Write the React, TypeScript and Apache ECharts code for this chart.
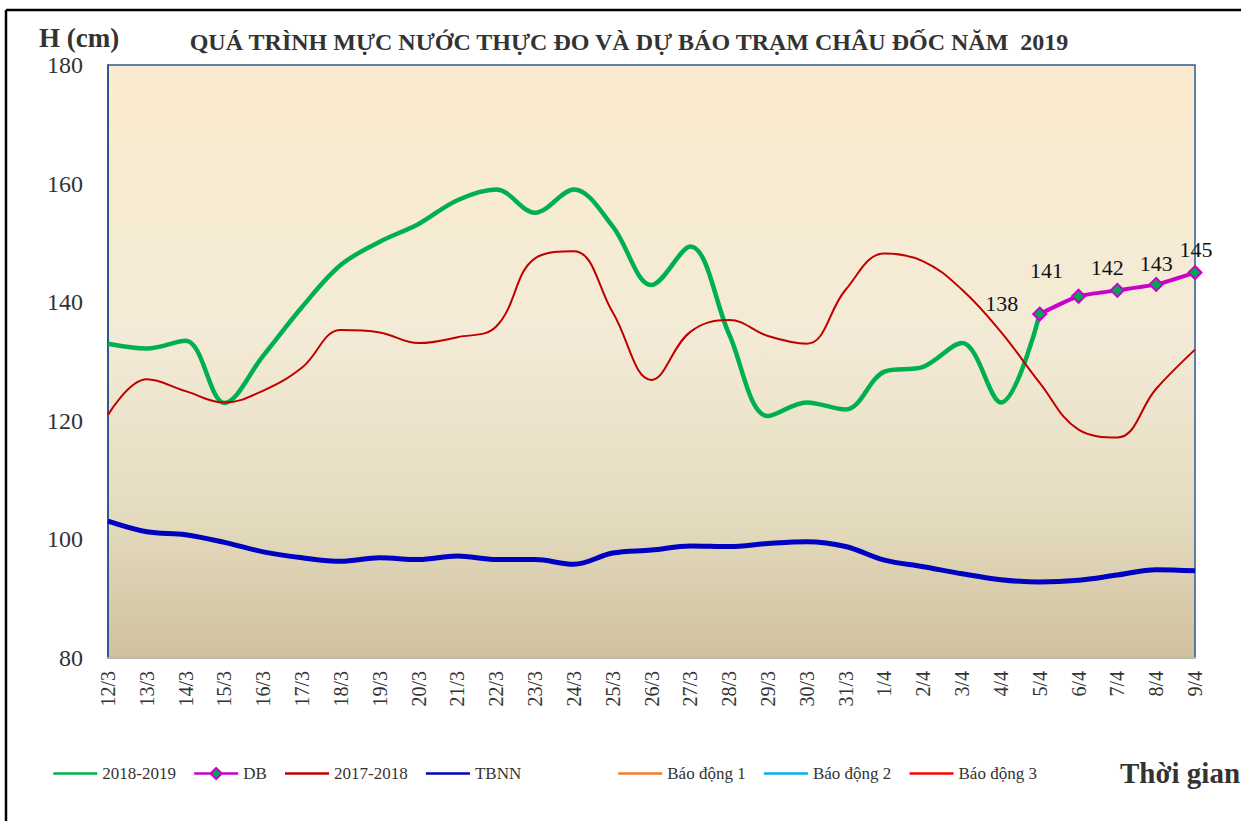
import React, { useEffect, useRef } from "react";
import * as echarts from "echarts";

const categories = [
  "12/3", "13/3", "14/3", "15/3", "16/3", "17/3", "18/3", "19/3", "20/3", "21/3",
  "22/3", "23/3", "24/3", "25/3", "26/3", "27/3", "28/3", "29/3", "30/3", "31/3",
  "1/4", "2/4", "3/4", "4/4", "5/4", "6/4", "7/4", "8/4", "9/4",
];

const s2018_2019 = [
  133, 132.2, 133.5, 123, 131, 139.2, 146.3, 150.2, 153.2, 157.2,
  159, 155.1, 159, 152.8, 142.9, 149.4, 134.6, 120.8, 123.1, 121.9,
  128.3, 129.1, 133.1, 123.1, 138,
];

const sDB = [138, 141, 142, 143, 145];
const dbStartIndex = 24;

const s2017_2018 = [
  121, 127, 125, 123.1, 125.1, 129, 135.3, 134.9, 133.1, 134.1,
  135.9, 147.4, 148.6, 138.3, 126.9, 135, 137, 134.3, 133, 142.1,
  148.2, 146.9, 142.1, 135, 126.4, 118.5, 117.2, 125.4, 132,
];

const sTBNN = [
  103.1, 101.3, 100.8, 99.5, 97.9, 96.9, 96.3, 96.9, 96.6, 97.2,
  96.6, 96.6, 95.8, 97.7, 98.2, 98.9, 98.8, 99.3, 99.6, 98.8,
  96.5, 95.4, 94.2, 93.2, 92.8, 93.1, 94.0, 94.9, 94.7,
];

const sBaoDong1: number[] = [];
const sBaoDong2: number[] = [];
const sBaoDong3: number[] = [];

const yTicks = { min: 80, max: 180, interval: 20 };

const titleText = "QUÁ TRÌNH MỰC NƯỚC THỰC ĐO VÀ DỰ BÁO TRẠM CHÂU ĐỐC NĂM  2019";

// label placement offsets for DB labels (layout only)
const dbLabelOffsets = [
  [-38, -11],
  [-32, -26],
  [-10, -23],
  [0, -21],
  [1, -23],
];

const FONT = "'Liberation Serif', 'Times New Roman', serif";

export default function App() {
  const ref = useRef<HTMLDivElement>(null);

  useEffect(() => {
    document.body.style.margin = "0";
    if (!ref.current) return;
    const chart = echarts.init(ref.current, undefined, { renderer: "svg" });

    const greenData = categories.map((_, i) => (i < s2018_2019.length ? s2018_2019[i] : null));
    const dbData = categories.map((_, i) => {
      const k = i - dbStartIndex;
      if (k < 0 || k >= sDB.length) return null;
      return {
        value: sDB[k],
        label: {
          show: true,
          position: "inside",
          offset: dbLabelOffsets[k],
          formatter: String(sDB[k]),
          fontFamily: FONT,
          fontSize: 22,
          color: "#111",
        },
      };
    });

    const hiddenSymbol = { opacity: 0 };
    const legendText = { fontFamily: FONT, fontSize: 17, color: "#333" };

    const option: any = {
      animation: false,
      backgroundColor: "#ffffff",
      grid: {
        left: 108,
        right: 46,
        top: 65,
        bottom: 163,
        show: true,
        borderColor: "#2E5A94",
        borderWidth: 1.5,
        backgroundColor: new echarts.graphic.LinearGradient(0, 0, 0, 1, [
          { offset: 0, color: "#FCEBCE" },
          { offset: 0.45, color: "#F3EBD7" },
          { offset: 0.75, color: "#E5DCC0" },
          { offset: 1, color: "#D0C19E" },
        ]),
      },
      xAxis: {
        type: "category",
        data: categories,
        boundaryGap: false,
        axisLine: { show: true, lineStyle: { color: "#B8B8B8", width: 2 } },
        axisTick: { show: false },
        axisLabel: {
          rotate: 90,
          interval: 0,
          margin: 13,
          fontFamily: FONT,
          fontSize: 20,
          color: "#333",
        },
        splitLine: { show: false },
      },
      yAxis: {
        type: "value",
        min: yTicks.min,
        max: yTicks.max,
        interval: yTicks.interval,
        axisLine: { show: true, lineStyle: { color: "#2E5A94", width: 2 } },
        axisTick: { show: false },
        axisLabel: {
          margin: 25,
          fontFamily: FONT,
          fontSize: 24,
          color: "#333",
        },
        splitLine: { show: false },
      },
      legend: [
        {
          left: 52,
          top: 765,
          padding: 0,
          itemWidth: 44,
          itemHeight: 14,
          itemGap: 17,
          data: [
            { name: "2018-2019", itemStyle: hiddenSymbol },
            { name: "DB", itemStyle: { color: "#00A550", borderColor: "#CC00CC", borderWidth: 2 } },
            { name: "2017-2018", itemStyle: hiddenSymbol },
            { name: "TBNN", itemStyle: hiddenSymbol },
          ],
          textStyle: legendText,
          lineStyle: { width: 2.5 },
        },
        {
          left: 617,
          top: 765,
          padding: 0,
          itemWidth: 44,
          itemHeight: 14,
          itemGap: 17,
          data: [
            { name: "Báo động 1", itemStyle: hiddenSymbol },
            { name: "Báo động 2", itemStyle: hiddenSymbol },
            { name: "Báo động 3", itemStyle: hiddenSymbol },
          ],
          textStyle: legendText,
          lineStyle: { width: 2.5 },
        },
      ],
      graphic: [
        {
          type: "line",
          shape: { x1: 6, y1: 10, x2: 1241, y2: 10 },
          style: { stroke: "#000", lineWidth: 2.5 },
        },
        {
          type: "line",
          shape: { x1: 6, y1: 10, x2: 6, y2: 821 },
          style: { stroke: "#000", lineWidth: 2.5 },
        },
        {
          type: "text",
          x: 39,
          y: 38,
          style: {
            text: "H (cm)",
            font: `bold 27px ${FONT}`,
            fill: "#333",
            textAlign: "left",
            textVerticalAlign: "middle",
          },
        },
        {
          type: "text",
          x: 629,
          y: 42,
          style: {
            text: titleText,
            font: `bold 24px ${FONT}`,
            fill: "#333",
            textAlign: "center",
            textVerticalAlign: "middle",
          },
        },
        {
          type: "text",
          x: 1120,
          y: 773,
          style: {
            text: "Thời gian",
            font: `bold 29px ${FONT}`,
            fill: "#333",
            textAlign: "left",
            textVerticalAlign: "middle",
          },
        },
      ],
      series: [
        {
          name: "2018-2019",
          type: "line",
          data: greenData,
          smooth: 0.35,
          symbol: "none",
          connectNulls: false,
          lineStyle: { color: "#00B050", width: 4.5 },
          itemStyle: { color: "#00B050" },
          z: 2,
        },
        {
          name: "DB",
          type: "line",
          data: dbData,
          smooth: 0.2,
          symbol: "diamond",
          symbolSize: 13,
          showAllSymbol: true,
          lineStyle: { color: "#CC00CC", width: 4 },
          itemStyle: { color: "#00A550", borderColor: "#CC00CC", borderWidth: 2 },
          z: 4,
        },
        {
          name: "2017-2018",
          type: "line",
          data: s2017_2018,
          smooth: 0.4,
          symbol: "none",
          lineStyle: { color: "#C00000", width: 2 },
          itemStyle: { color: "#C00000" },
          z: 3,
        },
        {
          name: "TBNN",
          type: "line",
          data: sTBNN,
          smooth: 0.35,
          symbol: "none",
          lineStyle: { color: "#0000C0", width: 5 },
          itemStyle: { color: "#0000C0" },
          z: 3,
        },
        {
          name: "Báo động 1",
          type: "line",
          data: sBaoDong1,
          symbol: "none",
          lineStyle: { color: "#ED7D31", width: 2 },
          itemStyle: { color: "#ED7D31" },
        },
        {
          name: "Báo động 2",
          type: "line",
          data: sBaoDong2,
          symbol: "none",
          lineStyle: { color: "#00B0F0", width: 2 },
          itemStyle: { color: "#00B0F0" },
        },
        {
          name: "Báo động 3",
          type: "line",
          data: sBaoDong3,
          symbol: "none",
          lineStyle: { color: "#FF0000", width: 2 },
          itemStyle: { color: "#FF0000" },
        },
      ],
    };
    chart.setOption(option);
    return () => chart.dispose();
  }, []);

  return <div ref={ref} style={{ width: 1241, height: 821 }} />;
}
